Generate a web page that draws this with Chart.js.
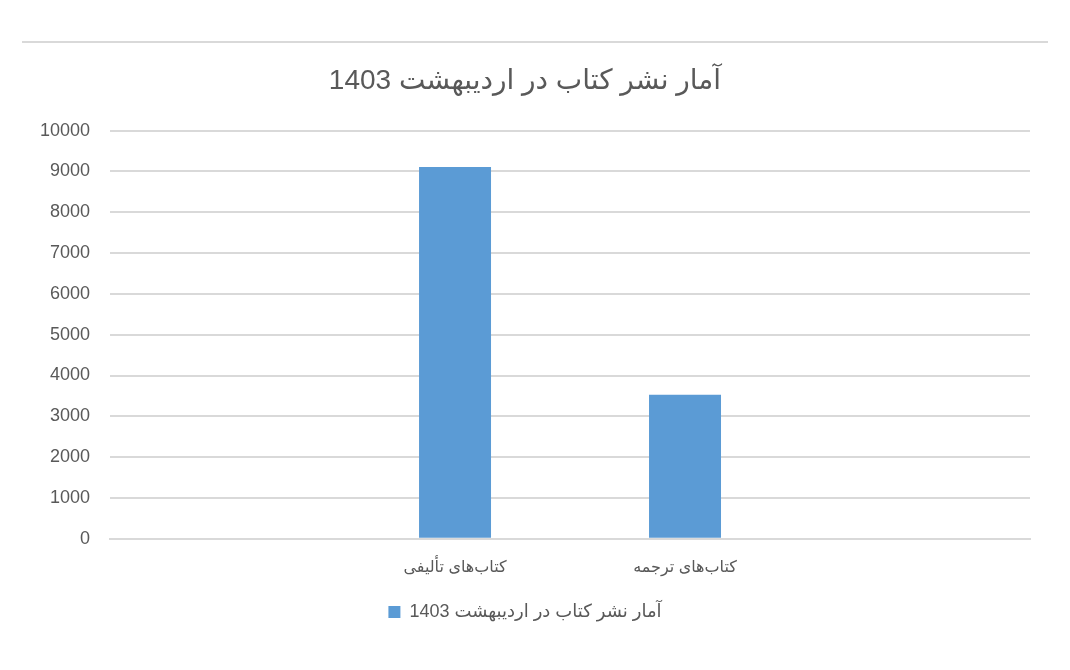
<!DOCTYPE html>
<html lang="fa">
<head>
  <meta charset="UTF-8" />
  <title>آمار نشر کتاب در اردیبهشت 1403</title>
  <script src="https://cdn.jsdelivr.net/npm/chart.js"></script>
  <style>
    body {
      margin: 0;
      background: #fff;
    }
    .wrap {
      position: relative;
      width: 1070px;
      height: 670px;
    }
    .topline {
      position: absolute;
      left: 22px;
      top: 41px;
      width: 1026px;
      height: 2px;
      background: #d9d9d9;
    }
  </style>
</head>
<body>
  <div class="wrap">
    <div class="topline"></div>
    <canvas id="bookChart" dir="rtl" width="1070" height="670"></canvas>
  </div>

  <script>
    const chartTitle = 'آمار نشر کتاب در اردیبهشت 1403';
    const categories = ['', 'کتاب‌های تألیفی', 'کتاب‌های ترجمه', ''];
    const bookCounts = [null, 9110, 3530, null];
    const yTicks = [0, 1000, 2000, 3000, 4000, 5000, 6000, 7000, 8000, 9000, 10000];

    const grey = '#595959';
    const fontFamily = "'Liberation Sans', 'DejaVu Sans', sans-serif";

    new Chart(document.getElementById('bookChart'), {
      type: 'bar',
      data: {
        labels: categories,
        datasets: [{
          label: chartTitle,
          data: bookCounts,
          backgroundColor: '#5b9bd5',
          barPercentage: 0.313,
          categoryPercentage: 1
        }]
      },
      options: {
        responsive: false,
        animation: false,
        layout: {
          padding: { left: 20, right: 40, bottom: 39, top: 0 }
        },
        plugins: {
          title: {
            display: true,
            text: chartTitle,
            color: grey,
            font: { family: fontFamily, size: 28, weight: 'normal' },
            padding: { top: 64, bottom: 33 }
          },
          legend: {
            position: 'bottom',
            labels: {
              color: grey,
              font: { family: fontFamily, size: 18 },
              boxWidth: 12,
              boxHeight: 12,
              padding: 15
            }
          },
          tooltip: { enabled: false }
        },
        scales: {
          x: {
            grid: { display: false },
            border: { color: '#d9d9d9', width: 2 },
            ticks: {
              color: grey,
              font: { family: fontFamily, size: 16 },
              padding: 11,
              maxRotation: 0
            }
          },
          y: {
            min: 0,
            max: 10000,
            afterBuildTicks: axis => { axis.ticks = yTicks.map(v => ({ value: v })); },
            grid: { color: '#d9d9d9', lineWidth: 2, drawTicks: false },
            border: { display: false },
            ticks: {
              color: grey,
              font: { family: fontFamily, size: 18 },
              padding: 20,
              callback: v => String(v)
            }
          }
        }
      }
    });
  </script>
</body>
</html>
